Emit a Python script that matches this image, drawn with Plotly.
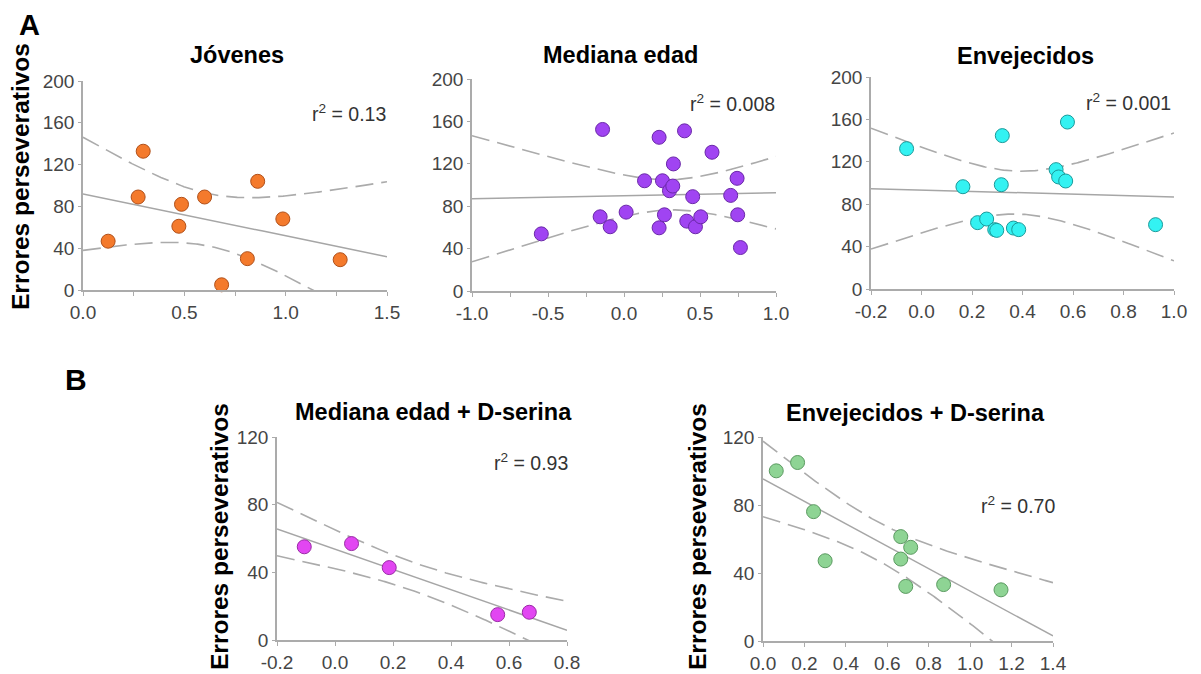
import numpy as np
import plotly.graph_objects as go

# ---------------- data ----------------
jov_x = [0.124, 0.297, 0.272, 0.486, 0.473, 0.600, 0.862, 0.986, 0.811, 0.684, 1.269]
jov_y = [46.7, 132.8, 89.0, 82.0, 61.0, 89.0, 104.0, 68.0, 30.0, 5.0, 29.0]

med_x = [-0.544, -0.141, -0.157, -0.091, 0.014, 0.135, 0.231, 0.253, 0.231, 0.266, 0.299,
         0.321, 0.325, 0.398, 0.413, 0.452, 0.470, 0.505, 0.579, 0.702, 0.744, 0.748, 0.766]
med_y = [53.9, 152.4, 70.0, 60.6, 74.4, 104.0, 145.0, 104.0, 59.6, 71.9, 94.6,
         99.0, 119.9, 151.1, 65.9, 89.0, 60.6, 70.0, 130.9, 90.2, 106.3, 71.9, 41.0]

env_x = [-0.059, 0.164, 0.222, 0.258, 0.290, 0.298, 0.316, 0.320, 0.364, 0.385,
         0.533, 0.543, 0.571, 0.578, 0.927]
env_y = [132.4, 96.5, 62.6, 66.0, 56.0, 55.3, 98.4, 144.7, 57.5, 56.0,
         112.6, 105.7, 101.9, 157.5, 60.7]

medD_x = [-0.106, 0.057, 0.187, 0.561, 0.670]
medD_y = [55.1, 57.0, 42.8, 15.0, 16.4]

envD_x = [0.064, 0.167, 0.244, 0.300, 0.665, 0.713, 0.665, 0.689, 0.872, 1.149]
envD_y = [100.1, 105.0, 76.1, 47.2, 61.4, 55.1, 48.2, 32.1, 33.2, 30.1]

titles = ["Jóvenes", "Mediana edad", "Envejecidos", "Mediana edad + D-serina", "Envejecidos + D-serina"]
r2_labels = ["0.13", "0.008", "0.001", "0.93", "0.70"]

jov_xticks = [0.0, 0.5, 1.0, 1.5]
jov_xtext = ["0.0", "0.5", "1.0", "1.5"]
med_xticks = [-1.0, -0.5, 0.0, 0.5, 1.0]
med_xtext = ["-1.0", "-0.5", "0.0", "0.5", "1.0"]
env_xticks = [-0.2, 0.0, 0.2, 0.4, 0.6, 0.8, 1.0]
env_xtext = ["-0.2", "0.0", "0.2", "0.4", "0.6", "0.8", "1.0"]
medD_xticks = [-0.2, 0.0, 0.2, 0.4, 0.6, 0.8]
medD_xtext = ["-0.2", "0.0", "0.2", "0.4", "0.6", "0.8"]
envD_xticks = [0.0, 0.2, 0.4, 0.6, 0.8, 1.0, 1.2, 1.4]
envD_xtext = ["0.0", "0.2", "0.4", "0.6", "0.8", "1.0", "1.2", "1.4"]
top_yticks = [0, 40, 80, 120, 160, 200]
bot_yticks = [0, 40, 80, 120]

# two-sided 95% t critical values by degrees of freedom
T95 = {3: 3.182, 8: 2.306, 9: 2.262, 13: 2.160, 21: 2.080}

# the page body has an 8px margin, so the figure starts at (8, 8) of the window
OFF = 8
W, H = 1201 - OFF, 674 - OFF
FONT = "Arial, Liberation Sans, sans-serif"


def px(xp):
    return (xp - OFF) / W


def py(yp):
    return 1 - (yp - OFF) / H


panels = [
    dict(x=jov_x, y=jov_y, fill="#F47A2C", edge="#B0501A", xr=[0, 1.5], yr=[0, 200],
         xt=jov_xticks, xtt=jov_xtext, yt=top_yticks, minor=0.25,
         box=(83, 387, 81, 290), title_xy=(237, 55), r2_xy=(388, 113)),
    dict(x=med_x, y=med_y, fill="#A044F2", edge="#6A28A8", xr=[-1, 1], yr=[0, 200],
         xt=med_xticks, xtt=med_xtext, yt=top_yticks, minor=0.25,
         box=(472, 776, 79, 291), title_xy=(620, 55), r2_xy=(777, 103)),
    dict(x=env_x, y=env_y, fill="#33F2F2", edge="#1A9A9A", xr=[-0.2, 1.0], yr=[0, 200],
         xt=env_xticks, xtt=env_xtext, yt=top_yticks, minor=None,
         box=(871, 1174, 77, 289), title_xy=(1025, 56), r2_xy=(1173, 102)),
    dict(x=medD_x, y=medD_y, fill="#E246F2", edge="#9A2AA6", xr=[-0.2, 0.8], yr=[0, 120],
         xt=medD_xticks, xtt=medD_xtext, yt=bot_yticks, minor=None,
         box=(277, 567, 437, 640), title_xy=(433, 412), r2_xy=(570, 462)),
    dict(x=envD_x, y=envD_y, fill="#8ED494", edge="#5A9A60", xr=[0, 1.4], yr=[0, 120],
         xt=envD_xticks, xtt=envD_xtext, yt=bot_yticks, minor=None,
         box=(763, 1053, 437, 641), title_xy=(915, 413), r2_xy=(1057, 505)),
]

fig = go.Figure()
annotations = []
layout_axes = {}

for i, p in enumerate(panels):
    k = "" if i == 0 else str(i + 1)
    xa, ya = "x" + k, "y" + k
    x = np.array(p["x"], dtype=float)
    y = np.array(p["y"], dtype=float)
    n = len(x)
    slope, icpt = np.polyfit(x, y, 1)
    resid = y - (slope * x + icpt)
    s = np.sqrt(np.sum(resid ** 2) / (n - 2))
    sxx = np.sum((x - x.mean()) ** 2)
    t = T95[n - 2]
    xs = np.linspace(p["xr"][0], p["xr"][1], 200)
    fit = slope * xs + icpt
    half = t * s * np.sqrt(1.0 / n + (xs - x.mean()) ** 2 / sxx)

    for yy in (fit + half, fit - half):
        fig.add_trace(go.Scatter(x=xs, y=yy, mode="lines", xaxis=xa, yaxis=ya,
                                 line=dict(color="#ABABAB", width=1.6, dash="18px,8px"),
                                 hoverinfo="skip", showlegend=False))
    fig.add_trace(go.Scatter(x=xs, y=fit, mode="lines", xaxis=xa, yaxis=ya,
                             line=dict(color="#A6A6A6", width=1.5),
                             hoverinfo="skip", showlegend=False))
    fig.add_trace(go.Scatter(x=x, y=y, mode="markers", xaxis=xa, yaxis=ya,
                             cliponaxis=False,
                             marker=dict(size=14, color=p["fill"],
                                         line=dict(color=p["edge"], width=1)),
                             showlegend=False))

    x0, x1, y0, y1 = p["box"]
    xaxis = dict(domain=[px(x0), px(x1)], range=p["xr"], anchor=ya, automargin=False,
                 showline=True, linecolor="#ABABAB", linewidth=1.5,
                 showgrid=False, zeroline=False,
                 tickmode="array", tickvals=p["xt"], ticktext=p["xtt"],
                 ticks="outside", ticklen=4, tickcolor="#ABABAB", tickwidth=1.2,
                 tickfont=dict(family=FONT, size=19, color="#454545"))
    if p["minor"]:
        xaxis["minor"] = dict(dtick=p["minor"], tick0=p["xr"][0], ticks="outside",
                              ticklen=4, tickcolor="#ABABAB", tickwidth=1.2)
    yaxis = dict(domain=[py(y1), py(y0)], range=p["yr"], anchor=xa, automargin=False,
                 showline=True, linecolor="#ABABAB", linewidth=1.5,
                 showgrid=False, zeroline=False,
                 tickmode="array", tickvals=p["yt"],
                 ticks="outside", ticklen=3, tickcolor="#ABABAB", tickwidth=1.2,
                 tickfont=dict(family=FONT, size=19, color="#454545"))
    layout_axes["xaxis" + k] = xaxis
    layout_axes["yaxis" + k] = yaxis

    tx, ty = p["title_xy"]
    annotations.append(dict(text="<b>" + titles[i] + "</b>", x=px(tx), y=py(ty),
                            xref="paper", yref="paper", showarrow=False,
                            xanchor="center", yanchor="middle",
                            font=dict(family=FONT, size=23.5, color="#000000")))
    rx, ry = p["r2_xy"]
    annotations.append(dict(text="r<sup>2</sup> = " + r2_labels[i], x=px(rx), y=py(ry),
                            xref="paper", yref="paper", showarrow=False,
                            xanchor="right", yanchor="middle",
                            font=dict(family=FONT, size=19.5, color="#333333")))

# y-axis titles
for (cx, cy) in [(20, 177), (219, 537), (697, 537)]:
    annotations.append(dict(text="<b>Errores perseverativos</b>", x=px(cx), y=py(cy),
                            xref="paper", yref="paper", showarrow=False, textangle=-90,
                            xanchor="center", yanchor="middle",
                            font=dict(family=FONT, size=24.5, color="#000000")))

# panel letters
annotations.append(dict(text="<b>A</b>", x=px(30), y=py(25), xref="paper", yref="paper",
                        showarrow=False, xanchor="center", yanchor="middle",
                        font=dict(family=FONT, size=29, color="#000000")))
annotations.append(dict(text="<b>B</b>", x=px(76), y=py(380), xref="paper", yref="paper",
                        showarrow=False, xanchor="center", yanchor="middle",
                        font=dict(family=FONT, size=30, color="#000000")))

fig.update_layout(template="none", width=W, height=H,
                  margin=dict(l=0, r=0, t=0, b=0, pad=0, autoexpand=False),
                  paper_bgcolor="white", plot_bgcolor="white",
                  showlegend=False, annotations=annotations, **layout_axes)

fig.write_html("out.html")
